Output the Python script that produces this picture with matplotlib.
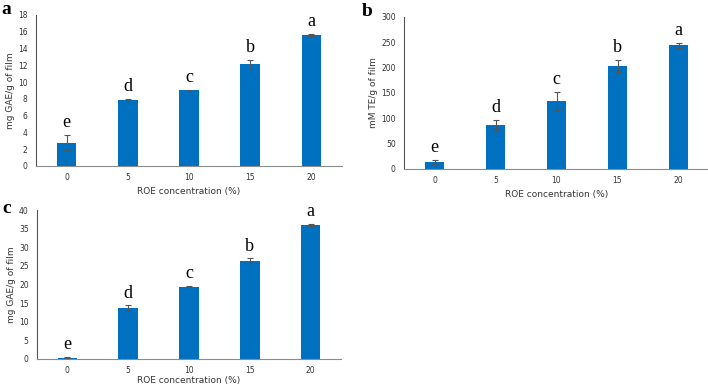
import matplotlib
matplotlib.use('Agg')
import matplotlib.pyplot as plt
import numpy as np

# data
conc = ['0', '5', '10', '15', '20']

tpc_a = [2.8, 7.9, 9.0, 12.1, 15.6]
tpc_a_err = [0.9, 0.1, 0.05, 0.5, 0.15]
tpc_a_letters = ['e', 'd', 'c', 'b', 'a']

dpph_b = [13, 87, 134, 204, 244]
dpph_b_err = [4, 10, 17, 12, 5]
dpph_b_letters = ['e', 'd', 'c', 'b', 'a']

gae_c = [0.36, 13.7, 19.4, 26.4, 35.9]
gae_c_err = [0.2, 0.7, 0.2, 0.6, 0.3]
gae_c_letters = ['e', 'd', 'c', 'b', 'a']

W, H = 708, 387
bar_color = '#0070C0'
axis_color = '#8c8c8c'
serif = ['Liberation Serif', 'DejaVu Serif']


def px_axes(fig, left, top, right, bottom):
    return fig.add_axes([left / W, 1 - bottom / H, (right - left) / W, (bottom - top) / H])


def draw_panel(ax, vals, errs, letters, ymax, ystep, ylabel, letter_off, tpad, lpad):
    x = np.arange(len(conc))
    ax.bar(x, vals, width=0.32, color=bar_color, zorder=2)
    ax.errorbar(x, vals, yerr=errs, fmt='none', ecolor='#555555',
                elinewidth=0.8, capsize=2.2, capthick=0.8, zorder=3)
    for xi, v, e, l in zip(x, vals, errs, letters):
        ax.text(xi, v + e + letter_off, l, ha='center', va='bottom',
                family=serif, fontsize=13)
    ax.set_xlim(-0.5, len(conc) - 0.5)
    ax.set_ylim(0, ymax)
    ax.set_yticks(np.arange(0, ymax + ystep / 2, ystep))
    ax.set_xticks(x)
    ax.set_xticklabels(conc)
    ax.tick_params(axis='y', length=0, labelsize=5.5, colors='#333333', pad=6)
    ax.tick_params(axis='x', length=0, labelsize=5.5, colors='#333333', pad=tpad)
    for s in ['top', 'right']:
        ax.spines[s].set_visible(False)
    ax.spines['left'].set_color('#555555')
    ax.spines['bottom'].set_color(axis_color)
    ax.set_xlabel('ROE concentration (%)', fontsize=6.5, color='#333333', labelpad=lpad)
    ax.set_ylabel(ylabel, fontsize=6.5, color='#333333', labelpad=2)


fig = plt.figure(figsize=(W / 100, H / 100), dpi=100)

ax_a = px_axes(fig, 36, 15, 342, 166)
draw_panel(ax_a, tpc_a, tpc_a_err, tpc_a_letters, 18, 2, 'mg GAE/g of film', 0.5, 5, 4)

ax_b = px_axes(fig, 404, 17, 709, 169)
draw_panel(ax_b, dpph_b, dpph_b_err, dpph_b_letters, 300, 50, 'mM TE/g of film', 8, 5, 4)

ax_c = px_axes(fig, 37, 210, 341, 359)
draw_panel(ax_c, gae_c, gae_c_err, gae_c_letters, 40, 5, 'mg GAE/g of film', 1, 5, 1)

fig.text(1 / W, 1 - 1 / H, 'a', ha='left', va='top', family=serif,
         fontweight='bold', fontsize=14)
fig.text(362 / W, 1 - 3 / H, 'b', ha='left', va='top', family=serif,
         fontweight='bold', fontsize=14)
fig.text(2 / W, 1 - 200 / H, 'c', ha='left', va='top', family=serif,
         fontweight='bold', fontsize=14)

fig.savefig('out.png', dpi=100)
